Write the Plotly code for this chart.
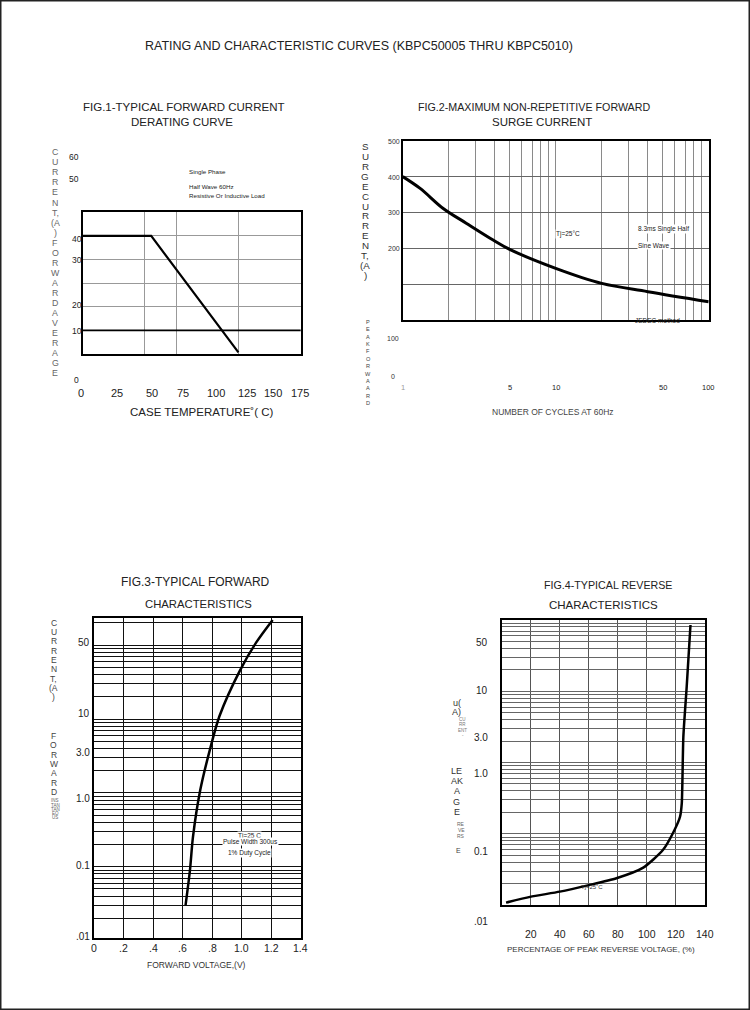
import numpy as np
import plotly.graph_objects as go

W, H = 750, 1010
FONT = "Liberation Sans, Arial, sans-serif"

# ---------------- data ----------------
# Fig.1 derating curve
fig1_temp = [0, 55, 125]
fig1_current = [40, 40, 3]
fig1_xgrid = [50, 75, 125]
fig1_ygrid = [17.5, 25, 32.5, 40]
fig1_refline = [10]
fig1_xlabels = ["0", "25", "50", "75", "100", "125", "150", "175"]
fig1_ylabels = ["60", "50", "40", "30", "20", "10", "0"]

# Fig.2 surge current
fig2_cycles = [1, 1.3, 1.84, 2.6, 3.9, 5, 10, 20, 40, 100]
fig2_current = [400, 367, 311, 270, 223, 197, 144, 102, 79, 51]
fig2_xgrid = [2, 3, 4, 5, 6, 7, 8, 9, 10, 20, 30, 40, 50, 60, 70, 80, 90]
fig2_ygrid = [100, 200, 300, 400]
fig2_xticks = [1, 5, 10, 50, 100]
fig2_ylabels = ["500", "400", "300", "200", "100", "0"]

# Fig.3 forward characteristics
fig3_voltage = [0.62, 0.65, 0.67, 0.72, 0.79, 0.85, 0.99, 1.10, 1.21]
fig3_current = [0.03, 0.09, 0.25, 1.1, 4.2, 11, 46, 110, 220]
fig3_xgrid = [0.2, 0.4, 0.6, 0.8, 1.0, 1.2]
fig3_xticks = [0, 0.2, 0.4, 0.6, 0.8, 1.0, 1.2, 1.4]
fig3_xticktext = ["0", ".2", ".4", ".6", ".8", "1.0", "1.2", "1.4"]
fig3_ylabels = ["50", "10", "3.0", "1.0", "0.1", ".01"]

# Fig.4 reverse characteristics
fig4_percent = [3, 19.5, 40, 60, 79, 97.5, 111, 119, 122.8, 124, 125.1, 127.4, 130]
fig4_current = [0.0108, 0.013, 0.0154, 0.019, 0.0237, 0.0334, 0.059, 0.113, 0.173,
                0.267, 2.3, 11.6, 85]
fig4_xgrid = [20, 40, 60, 80, 100, 120]
fig4_xticks = [20, 40, 60, 80, 100, 120, 140]
fig4_ylabels = ["50", "10", "3.0", "1.0", "0.1", ".01"]

log_grid = [k * 10.0 ** e for e in range(-2, 3) for k in range(1, 10)]

# ---------------- layout helpers ----------------
# plot boxes in page pixels: (left, top, right, bottom)
box1 = (82.7, 212.3, 300.7, 354.0)
box2 = (402.7, 140.7, 708.7, 320.0)
box3 = (94.0, 618.3, 300.7, 938.3)
box4 = (501.7, 620.0, 705.0, 905.0)


def dom(b):
    return [b[0] / W, b[2] / W], [1 - b[3] / H, 1 - b[1] / H]


fig = go.Figure()

fig.add_trace(go.Scatter(x=fig1_temp, y=fig1_current, mode="lines",
                         line=dict(color="black", width=2.2), xaxis="x", yaxis="y"))
fig.add_trace(go.Scatter(x=fig2_cycles, y=fig2_current, mode="lines",
                         line=dict(color="black", width=3, shape="spline"),
                         xaxis="x2", yaxis="y2"))
fig.add_trace(go.Scatter(x=fig3_voltage, y=fig3_current, mode="lines",
                         line=dict(color="black", width=2.5, shape="spline", smoothing=0.8),
                         xaxis="x3", yaxis="y3"))
fig.add_trace(go.Scatter(x=fig4_percent, y=fig4_current, mode="lines",
                         line=dict(color="black", width=2.5, shape="spline", smoothing=0.6),
                         xaxis="x4", yaxis="y4"))


def axis(domain, rng, grid, gcolor, gwidth=1, typ="linear", anchor=None):
    return dict(domain=domain, range=rng, type=typ, tickmode="array", tickvals=grid,
                showticklabels=False, ticks="", showgrid=True, gridcolor=gcolor,
                gridwidth=gwidth, zeroline=False, showline=True, mirror=True,
                linecolor="black", linewidth=1.5, anchor=anchor, fixedrange=True)


d1x, d1y = dom(box1)
d2x, d2y = dom(box2)
d3x, d3y = dom(box3)
d4x, d4y = dom(box4)

fig.update_layout(
    width=W, height=H, margin=dict(l=0, r=0, t=0, b=0),
    paper_bgcolor="white", plot_bgcolor="white", showlegend=False,
    font=dict(family=FONT, color="#222"),
    xaxis=axis(d1x, [0, 175], fig1_xgrid, "#999", 1.2, anchor="y"),
    yaxis=axis(d1y, [2.5, 47.5], fig1_ygrid, "#999", 1.2, anchor="x"),
    xaxis2=axis(d2x, [0, 2], fig2_xgrid, "#8a8a8a", 1, "log", anchor="y2"),
    yaxis2=axis(d2y, [0, 500], fig2_ygrid, "#666", 1.2, anchor="x2"),
    xaxis3=axis(d3x, [0, 1.4], fig3_xgrid, "#111", 1.3, anchor="y3"),
    yaxis3=axis(d3y, [-1.969, 2.364], log_grid, "#111", 1.3, "log", anchor="x3"),
    xaxis4=axis(d4x, [0, 140], fig4_xgrid, "#555", 1, anchor="y4"),
    yaxis4=axis(d4y, [-2, 2], log_grid, "#666", 1, "log", anchor="x4"),
)

# heavy reference line in fig.1
for v in fig1_refline:
    fig.add_shape(type="line", xref="x domain", x0=0, x1=1, yref="y", y0=v, y1=v,
                  line=dict(color="black", width=1.6))

# page border
fig.add_shape(type="rect", xref="paper", yref="paper", x0=0, x1=1, y0=0, y1=1,
              line=dict(color="#222", width=3))


def ann(x, y, text, size, color="#222", xanchor="center", bg=None, xref="paper"):
    fig.add_annotation(x=(x / W if xref == "paper" else x), y=1 - y / H,
                       xref=xref, yref="paper", text=text, showarrow=False,
                       font=dict(size=size, color=color, family=FONT),
                       xanchor=xanchor, yanchor="middle",
                       bgcolor=bg, borderpad=0)


def vtext(chars, x, y0, step, size, color="#444"):
    for i, ch in enumerate(chars):
        ann(x, y0 + i * step, ch, size, color)


# main title
ann(359, 46, "RATING AND CHARACTERISTIC CURVES (KBPC50005 THRU KBPC5010)", 12.5)

# ---- Fig.1 texts ----
ann(183, 106.7, "FIG.1-TYPICAL FORWARD CURRENT", 11.5)
ann(182, 122.3, "DERATING CURVE", 11.5)
fig1_ylab_pos = [(73.7, 156.7), (73.7, 179.3), (77, 239.3), (77, 260), (77, 305),
                 (77, 330.7), (76, 380)]
for t, (x, y) in zip(fig1_ylabels, fig1_ylab_pos):
    ann(x, y, t, 8.5)
fig1_xlab_pos = [80.7, 116.7, 151.7, 183.3, 215.7, 246.7, 273.3, 300]
for t, x in zip(fig1_xlabels, fig1_xlab_pos):
    ann(x, 393.3, t, 11)
ann(201.7, 411.7, "CASE TEMPERATURE˚( C)", 11.5)
ann(188.3, 171.7, "Single Phase", 6.2, xanchor="left")
ann(188.3, 186.7, "Half Wave 60Hz", 6.2, xanchor="left")
ann(188.3, 195.8, "Resistive Or Inductive Load", 6.2, xanchor="left")
vtext(["C", "U", "R", "R", "E", "N", "T,", "(A", ")", "F", "O", "R", "W", "A", "R",
       "D", "A", "V", "E", "R", "A", "G", "E"], 55, 152.3, 10.05, 8.8, "#666")

# ---- Fig.2 texts ----
ann(534, 106.7, "FIG.2-MAXIMUM NON-REPETITIVE FORWARD", 10.7)
ann(541.7, 122.3, "SURGE CURRENT", 11.5)
fig2_ylab_pos = [(401, 141.7), (401, 177.3), (401, 212.7), (401, 248.3), (400, 338.3),
                 (396, 376)]
for t, (x, y) in zip(fig2_ylabels, fig2_ylab_pos):
    ann(x, y, t, 7, "#333", xanchor="right")
for v in fig2_xticks:
    ann(float(np.log10(v)), 387.7, str(v), 7.5, "#999" if v == 1 else "#222", xref="x2")
ann(552.7, 411.7, "NUMBER OF CYCLES AT 60Hz", 8.5, "#444")
vtext(["S", "U", "R", "G", "E", "C", "U", "R", "R", "E", "N", "T,", "(A", ")"],
      365, 146.7, 9.9, 9.8, "#333")
vtext(["P", "E", "A", "K", "F", "O", "R", "W", "A", "A", "R", "D"], 368, 321.7, 7.4, 5.6,
      "#444")
ann(568.3, 234, "Tj=25°C", 6.5, bg="white")
ann(636.7, 229.3, "8.3ms Single Half", 6.5, xanchor="left", bg="white")
ann(636.7, 245.7, "Sine Wave", 6.5, xanchor="left", bg="white")
ann(634, 320, "JEDEC method", 6.5, xanchor="left")

# ---- Fig.3 texts ----
ann(195, 581.7, "FIG.3-TYPICAL FORWARD", 12)
ann(198.8, 604.3, "CHARACTERISTICS", 11.3)
fig3_ylab_y = [642.7, 713.3, 752.7, 798.3, 865, 936.7]
for t, y in zip(fig3_ylabels, fig3_ylab_y):
    ann(90.5, y, t, 10, xanchor="right")
for v, t in zip(fig3_xticks, fig3_xticktext):
    ann(v, 948.3, t, 10.5, xref="x3")
ann(196.3, 965, "FORWARD VOLTAGE,(V)", 8.5, "#333")
vtext(["C", "U", "R", "R", "E", "N", "T,", "(A", ")"], 54, 622.7, 9.3, 8.5, "#444")
vtext(["F", "O", "R", "W", "A", "R", "D"], 54, 736, 9.3, 8.5, "#444")
vtext(["INS", "TAN", "TAN", "EO", "US"], 55, 800.7, 4.3, 4.5, "#666")
ann(249.3, 835.5, "Tj=25 C", 6.5, bg="white")
ann(250, 841.5, "Pulse Width 300us", 6.5, bg="white")
ann(249.3, 852.7, "1% Duty Cycle", 6.5, bg="white")

# ---- Fig.4 texts ----
ann(607.5, 585, "FIG.4-TYPICAL REVERSE", 10.7)
ann(603.5, 605, "CHARACTERISTICS", 11.5)
fig4_ylab_y = [642.7, 690.7, 737.5, 773.5, 851.7, 921.5]
for t, y in zip(fig4_ylabels, fig4_ylab_y):
    ann(489.5, y, t, 10, xanchor="right")
for v in fig4_xticks:
    ann(v, 934.3, str(v), 10.5, xref="x4")
ann(600.7, 949, "PERCENTAGE OF PEAK REVERSE VOLTAGE, (%)", 8, "#333")
vtext(["u(", "A)"], 457, 703, 9, 9, "#333")
vtext(["CU", "RR", "ENT", "-"], 463, 719, 5.5, 4.5, "#777")
vtext(["LE", "AK", "A", "G", "E"], 457, 771, 10.2, 9, "#333")
vtext(["RE", "VE", "RS"], 461, 824, 6, 5, "#666")
ann(458, 850, "E", 7, "#444")
ann(592, 887, "Tj=25˚C", 6, "#333")

# the page body has a default margin; remove it so the figure fills the window
fig.write_html("out.html", config={"displayModeBar": False},
               post_script="document.body.style.margin='0px';")
